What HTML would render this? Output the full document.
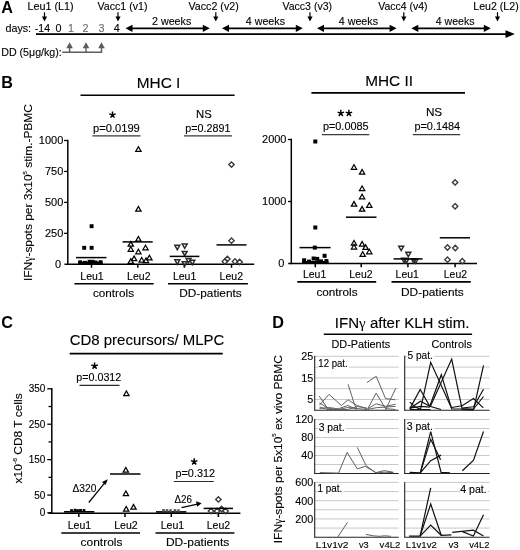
<!DOCTYPE html>
<html><head><meta charset="utf-8"><style>
html,body{margin:0;padding:0;background:#fff;}
svg{display:block;font-family:"Liberation Sans",sans-serif;will-change:transform;}
</style></head><body>
<svg width="520" height="550" viewBox="0 0 520 550">
<rect width="520" height="550" fill="#fff"/>
<text x="1.3" y="13" font-size="16.2" font-weight="bold">A</text>
<text x="27.5" y="10" font-size="10.5" stroke="#000" stroke-width="0.12" textLength="46.2" lengthAdjust="spacingAndGlyphs">Leu1 (L1)</text>
<line x1="44.5" y1="12.3" x2="44.5" y2="17" stroke="#000" stroke-width="1.2"/>
<polygon points="41.9,16.5 47.1,16.5 44.5,21.5" fill="#000"/>
<text x="97.5" y="10" font-size="10.5" stroke="#000" stroke-width="0.12" textLength="50" lengthAdjust="spacingAndGlyphs">Vacc1 (v1)</text>
<line x1="118" y1="12.3" x2="118" y2="17" stroke="#000" stroke-width="1.2"/>
<polygon points="115.4,16.5 120.6,16.5 118,21.5" fill="#000"/>
<text x="188.5" y="10" font-size="10.5" stroke="#000" stroke-width="0.12" textLength="50.2" lengthAdjust="spacingAndGlyphs">Vacc2 (v2)</text>
<line x1="215.8" y1="12.3" x2="215.8" y2="17" stroke="#000" stroke-width="1.2"/>
<polygon points="213.2,16.5 218.4,16.5 215.8,21.5" fill="#000"/>
<text x="282.5" y="10" font-size="10.5" stroke="#000" stroke-width="0.12" textLength="49.5" lengthAdjust="spacingAndGlyphs">Vacc3 (v3)</text>
<line x1="310" y1="12.3" x2="310" y2="17" stroke="#000" stroke-width="1.2"/>
<polygon points="307.4,16.5 312.6,16.5 310,21.5" fill="#000"/>
<text x="378.3" y="10" font-size="10.5" stroke="#000" stroke-width="0.12" textLength="49.2" lengthAdjust="spacingAndGlyphs">Vacc4 (v4)</text>
<line x1="403.8" y1="12.3" x2="403.8" y2="17" stroke="#000" stroke-width="1.2"/>
<polygon points="401.2,16.5 406.4,16.5 403.8,21.5" fill="#000"/>
<text x="473.3" y="10" font-size="10.5" stroke="#000" stroke-width="0.12" textLength="45.4" lengthAdjust="spacingAndGlyphs">Leu2 (L2)</text>
<line x1="497.5" y1="12.3" x2="497.5" y2="17" stroke="#000" stroke-width="1.2"/>
<polygon points="494.9,16.5 500.1,16.5 497.5,21.5" fill="#000"/>
<text x="5.5" y="32" font-size="10.8" stroke="#000" stroke-width="0.12" textLength="25.6" lengthAdjust="spacingAndGlyphs">days:</text>
<text x="34.8" y="32" font-size="10.8" stroke="#000" stroke-width="0.12" textLength="15.2" lengthAdjust="spacingAndGlyphs">-14</text>
<text x="55.5" y="32" font-size="10.8" stroke="#000" stroke-width="0.12">0</text>
<text x="68" y="32" font-size="10.8" stroke="#6e6e6e" stroke-width="0.12" fill="#6e6e6e">1</text>
<text x="82.5" y="32" font-size="10.8" stroke="#6e6e6e" stroke-width="0.12" fill="#6e6e6e">2</text>
<text x="98.5" y="32" font-size="10.8" stroke="#6e6e6e" stroke-width="0.12" fill="#6e6e6e">3</text>
<text x="113.8" y="32" font-size="10.8" stroke="#000" stroke-width="0.12">4</text>
<line x1="36" y1="34.1" x2="507" y2="34.1" stroke="#000" stroke-width="1.6"/>
<polygon points="514.8,34.1 505.5,30.2 505.5,38" fill="#000"/>
<line x1="131.5" y1="28.3" x2="203.8" y2="28.3" stroke="#000" stroke-width="1.8"/>
<polygon points="125.5,28.3 132.5,24.7 132.5,31.9" fill="#000"/>
<polygon points="209.8,28.3 202.8,24.7 202.8,31.9" fill="#000"/>
<line x1="228" y1="28.3" x2="296.8" y2="28.3" stroke="#000" stroke-width="1.8"/>
<polygon points="222,28.3 229,24.7 229,31.9" fill="#000"/>
<polygon points="302.8,28.3 295.8,24.7 295.8,31.9" fill="#000"/>
<line x1="323" y1="28.3" x2="390.6" y2="28.3" stroke="#000" stroke-width="1.8"/>
<polygon points="317,28.3 324,24.7 324,31.9" fill="#000"/>
<polygon points="396.6,28.3 389.6,24.7 389.6,31.9" fill="#000"/>
<line x1="417.3" y1="28.3" x2="484.8" y2="28.3" stroke="#000" stroke-width="1.8"/>
<polygon points="411.3,28.3 418.3,24.7 418.3,31.9" fill="#000"/>
<polygon points="490.8,28.3 483.8,24.7 483.8,31.9" fill="#000"/>
<text x="152" y="24.8" font-size="10.5" stroke="#000" stroke-width="0.12" textLength="39.3" lengthAdjust="spacingAndGlyphs">2 weeks</text>
<text x="245.8" y="24.8" font-size="10.5" stroke="#000" stroke-width="0.12" textLength="39.2" lengthAdjust="spacingAndGlyphs">4 weeks</text>
<text x="338.8" y="24.8" font-size="10.5" stroke="#000" stroke-width="0.12" textLength="39.2" lengthAdjust="spacingAndGlyphs">4 weeks</text>
<text x="435.8" y="24.8" font-size="10.5" stroke="#000" stroke-width="0.12" textLength="38.7" lengthAdjust="spacingAndGlyphs">4 weeks</text>
<text x="1.2" y="55.8" font-size="10.5" stroke="#000" stroke-width="0.12" textLength="60.6" lengthAdjust="spacingAndGlyphs">DD (5&#956;g/kg):</text>
<line x1="62.3" y1="52.3" x2="101.9" y2="52.3" stroke="#5c5c5c" stroke-width="1.4"/>
<line x1="69.6" y1="47.7" x2="69.6" y2="52.3" stroke="#5c5c5c" stroke-width="1.4"/>
<polygon points="66.3,48.2 72.9,48.2 69.6,42.2" fill="#5c5c5c"/>
<line x1="86" y1="47.7" x2="86" y2="52.3" stroke="#5c5c5c" stroke-width="1.4"/>
<polygon points="82.7,48.2 89.3,48.2 86,42.2" fill="#5c5c5c"/>
<line x1="101.5" y1="47.7" x2="101.5" y2="52.9" stroke="#5c5c5c" stroke-width="1.4"/>
<polygon points="98.2,48.2 104.8,48.2 101.5,42.2" fill="#5c5c5c"/>
<text x="1.3" y="88" font-size="16.2" font-weight="bold">B</text>
<text x="136.8" y="88.2" font-size="15.2" stroke="#000" stroke-width="0.12" textLength="43.6" lengthAdjust="spacingAndGlyphs">MHC I</text>
<line x1="80.5" y1="95.2" x2="234.6" y2="95.2" stroke="#000" stroke-width="1.6"/>
<path d="M112.5,114.9L112.5,111.5M112.5,114.9L115.73,113.85M112.5,114.9L114.5,117.65M112.5,114.9L110.5,117.65M112.5,114.9L109.27,113.85" stroke="#000" stroke-width="1.45" stroke-linecap="butt" fill="none"/>
<text x="93" y="132.1" font-size="10.7" stroke="#000" stroke-width="0.12" textLength="46.8" lengthAdjust="spacingAndGlyphs">p=0.0199</text>
<line x1="92.4" y1="135.8" x2="140.5" y2="135.8" stroke="#3a3a3a" stroke-width="1.3"/>
<text x="196" y="118.2" font-size="11.2" stroke="#000" stroke-width="0.12" textLength="15.7" lengthAdjust="spacingAndGlyphs">NS</text>
<text x="185.3" y="132.1" font-size="10.7" stroke="#000" stroke-width="0.12" textLength="45.1" lengthAdjust="spacingAndGlyphs">p=0.2891</text>
<line x1="184" y1="135.8" x2="232" y2="135.8" stroke="#3a3a3a" stroke-width="1.3"/>
<line x1="67.8" y1="139.8" x2="67.8" y2="265" stroke="#000" stroke-width="1.5"/>
<line x1="64.5" y1="264.3" x2="254.2" y2="264.3" stroke="#000" stroke-width="1.5"/>
<line x1="64.1" y1="140.5" x2="67.8" y2="140.5" stroke="#000" stroke-width="1.3"/>
<text x="63.3" y="144.4" font-size="11" stroke="#000" stroke-width="0.12" text-anchor="end">1000</text>
<line x1="64.1" y1="171.45" x2="67.8" y2="171.45" stroke="#000" stroke-width="1.3"/>
<text x="63.3" y="175.35" font-size="11" stroke="#000" stroke-width="0.12" text-anchor="end">750</text>
<line x1="64.1" y1="202.4" x2="67.8" y2="202.4" stroke="#000" stroke-width="1.3"/>
<text x="63.3" y="206.3" font-size="11" stroke="#000" stroke-width="0.12" text-anchor="end">500</text>
<line x1="64.1" y1="233.35" x2="67.8" y2="233.35" stroke="#000" stroke-width="1.3"/>
<text x="63.3" y="237.25" font-size="11" stroke="#000" stroke-width="0.12" text-anchor="end">250</text>
<text x="61.2" y="268.2" font-size="11" stroke="#000" stroke-width="0.12" text-anchor="end">0</text>
<line x1="91.5" y1="264" x2="91.5" y2="267.8" stroke="#000" stroke-width="1.5"/>
<line x1="137.8" y1="264" x2="137.8" y2="267.8" stroke="#000" stroke-width="1.5"/>
<line x1="184.3" y1="264" x2="184.3" y2="267.8" stroke="#000" stroke-width="1.5"/>
<line x1="231.5" y1="264" x2="231.5" y2="267.8" stroke="#000" stroke-width="1.5"/>
<text x="92" y="279.7" font-size="10.6" stroke="#000" stroke-width="0.12" text-anchor="middle" textLength="23.4" lengthAdjust="spacingAndGlyphs">Leu1</text>
<text x="138.8" y="279.7" font-size="10.6" stroke="#000" stroke-width="0.12" text-anchor="middle" textLength="23.4" lengthAdjust="spacingAndGlyphs">Leu2</text>
<text x="184.6" y="279.7" font-size="10.6" stroke="#000" stroke-width="0.12" text-anchor="middle" textLength="23.4" lengthAdjust="spacingAndGlyphs">Leu1</text>
<text x="231.3" y="279.7" font-size="10.6" stroke="#000" stroke-width="0.12" text-anchor="middle" textLength="23.4" lengthAdjust="spacingAndGlyphs">Leu2</text>
<line x1="74.4" y1="283.8" x2="153.7" y2="283.8" stroke="#000" stroke-width="1.6"/>
<line x1="168" y1="283.8" x2="247.9" y2="283.8" stroke="#000" stroke-width="1.6"/>
<text x="113.5" y="297.3" font-size="11.7" stroke="#000" stroke-width="0.12" text-anchor="middle" textLength="41" lengthAdjust="spacingAndGlyphs">controls</text>
<text x="210.5" y="297.3" font-size="11.7" stroke="#000" stroke-width="0.12" text-anchor="middle" textLength="62.5" lengthAdjust="spacingAndGlyphs">DD-patients</text>
<text transform="translate(32.3,192.6) rotate(-90)" x="0" y="0" font-size="11.6" text-anchor="middle" stroke="#000" stroke-width="0.12" textLength="177" lengthAdjust="spacingAndGlyphs">IFN<tspan font-family="Liberation Serif" stroke-width="0">&#947;</tspan>-spots per 3x10<tspan font-size="5.8" dy="-5.2">5</tspan><tspan dy="5.2"> stim.-PBMC</tspan></text>
<rect x="78" y="261.6" width="24.6" height="2.5" fill="#000"/>
<rect x="89.65" y="224.25" width="3.9" height="3.9" fill="#000"/>
<rect x="82.25" y="245.85" width="3.9" height="3.9" fill="#000"/>
<rect x="89.65" y="245.85" width="3.9" height="3.9" fill="#000"/>
<rect x="78.25" y="260.35" width="3.9" height="3.9" fill="#000"/>
<rect x="83.05" y="260.85" width="3.9" height="3.9" fill="#000"/>
<rect x="87.65" y="259.85" width="3.9" height="3.9" fill="#000"/>
<rect x="90.65" y="259.85" width="3.9" height="3.9" fill="#000"/>
<rect x="93.55" y="260.55" width="3.9" height="3.9" fill="#000"/>
<rect x="98.65" y="260.25" width="3.9" height="3.9" fill="#000"/>
<line x1="76" y1="257.6" x2="106.5" y2="257.6" stroke="#000" stroke-width="1.5"/>
<polygon points="135.75,151.31 141.05,151.31 138.4,146.69" fill="none" stroke="#000" stroke-width="1.25"/>
<polygon points="135.75,211.11 141.05,211.11 138.4,206.49" fill="none" stroke="#000" stroke-width="1.25"/>
<polygon points="135.75,241.11 141.05,241.11 138.4,236.49" fill="none" stroke="#000" stroke-width="1.25"/>
<polygon points="128.15,246.21 133.45,246.21 130.8,241.59" fill="none" stroke="#000" stroke-width="1.25"/>
<polygon points="128.15,251.31 133.45,251.31 130.8,246.69" fill="none" stroke="#000" stroke-width="1.25"/>
<polygon points="142.85,249.81 148.15,249.81 145.5,245.19" fill="none" stroke="#000" stroke-width="1.25"/>
<polygon points="135.75,253.81 141.05,253.81 138.4,249.19" fill="none" stroke="#000" stroke-width="1.25"/>
<polygon points="131.45,260.71 136.75,260.71 134.1,256.09" fill="none" stroke="#000" stroke-width="1.25"/>
<polygon points="128.15,263.31 133.45,263.31 130.8,258.69" fill="none" stroke="#000" stroke-width="1.25"/>
<polygon points="139.05,262.01 144.35,262.01 141.7,257.39" fill="none" stroke="#000" stroke-width="1.25"/>
<polygon points="143.35,262.51 148.65,262.51 146,257.89" fill="none" stroke="#000" stroke-width="1.25"/>
<polygon points="146.75,259.91 152.05,259.91 149.4,255.29" fill="none" stroke="#000" stroke-width="1.25"/>
<line x1="122.6" y1="241.9" x2="152.7" y2="241.9" stroke="#000" stroke-width="1.5"/>
<polygon points="174.85,245.37 179.75,245.37 177.3,249.63" fill="none" stroke="#2a2a2a" stroke-width="1.5"/>
<polygon points="182.25,244.07 187.15,244.07 184.7,248.33" fill="none" stroke="#2a2a2a" stroke-width="1.5"/>
<polygon points="182.25,251.47 187.15,251.47 184.7,255.73" fill="none" stroke="#2a2a2a" stroke-width="1.5"/>
<polygon points="174.85,259.87 179.75,259.87 177.3,264.13" fill="none" stroke="#2a2a2a" stroke-width="1.5"/>
<polygon points="186.05,258.57 190.95,258.57 188.5,262.83" fill="none" stroke="#2a2a2a" stroke-width="1.5"/>
<polygon points="189.85,260.37 194.75,260.37 192.3,264.63" fill="none" stroke="#2a2a2a" stroke-width="1.5"/>
<polygon points="182.25,261.87 187.15,261.87 184.7,266.13" fill="none" stroke="#2a2a2a" stroke-width="1.5"/>
<line x1="169.7" y1="256.4" x2="199.4" y2="256.4" stroke="#000" stroke-width="1.5"/>
<polygon points="231.5,161.9 234.2,164.6 231.5,167.3 228.8,164.6" fill="none" stroke="#3a3a3a" stroke-width="1.35"/>
<polygon points="231.5,238 234.2,240.7 231.5,243.4 228.8,240.7" fill="none" stroke="#3a3a3a" stroke-width="1.35"/>
<polygon points="224.9,258.8 227.6,261.5 224.9,264.2 222.2,261.5" fill="none" stroke="#3a3a3a" stroke-width="1.35"/>
<polygon points="227.4,256.2 230.1,258.9 227.4,261.6 224.7,258.9" fill="none" stroke="#3a3a3a" stroke-width="1.35"/>
<polygon points="235,258.8 237.7,261.5 235,264.2 232.3,261.5" fill="none" stroke="#3a3a3a" stroke-width="1.35"/>
<polygon points="239.6,259.3 242.3,262 239.6,264.7 236.9,262" fill="none" stroke="#3a3a3a" stroke-width="1.35"/>
<line x1="216.5" y1="244.9" x2="246.5" y2="244.9" stroke="#000" stroke-width="1.5"/>
<text x="365.2" y="86.4" font-size="15.2" stroke="#000" stroke-width="0.12" textLength="47.8" lengthAdjust="spacingAndGlyphs">MHC II</text>
<line x1="311.4" y1="92.9" x2="465" y2="92.9" stroke="#000" stroke-width="1.6"/>
<path d="M340.8,113.2L340.8,109.8M340.8,113.2L344.03,112.15M340.8,113.2L342.8,115.95M340.8,113.2L338.8,115.95M340.8,113.2L337.57,112.15" stroke="#000" stroke-width="1.45" stroke-linecap="butt" fill="none"/>
<path d="M348.9,113.2L348.9,109.8M348.9,113.2L352.13,112.15M348.9,113.2L350.9,115.95M348.9,113.2L346.9,115.95M348.9,113.2L345.67,112.15" stroke="#000" stroke-width="1.45" stroke-linecap="butt" fill="none"/>
<text x="322.9" y="129.8" font-size="10.7" stroke="#000" stroke-width="0.12" textLength="45.7" lengthAdjust="spacingAndGlyphs">p=0.0085</text>
<line x1="321.9" y1="134.6" x2="369.3" y2="134.6" stroke="#3a3a3a" stroke-width="1.3"/>
<text x="425.9" y="116.4" font-size="11.2" stroke="#000" stroke-width="0.12" textLength="16.3" lengthAdjust="spacingAndGlyphs">NS</text>
<text x="414.4" y="129.8" font-size="10.7" stroke="#000" stroke-width="0.12" textLength="45.8" lengthAdjust="spacingAndGlyphs">p=0.1484</text>
<line x1="412.8" y1="134.6" x2="460.2" y2="134.6" stroke="#3a3a3a" stroke-width="1.3"/>
<line x1="291.3" y1="138.7" x2="291.3" y2="264.2" stroke="#000" stroke-width="1.5"/>
<line x1="288.2" y1="263.5" x2="477" y2="263.5" stroke="#000" stroke-width="1.5"/>
<line x1="288" y1="139.5" x2="291.3" y2="139.5" stroke="#000" stroke-width="1.3"/>
<text x="286.5" y="143.4" font-size="11" stroke="#000" stroke-width="0.12" text-anchor="end">2000</text>
<line x1="288" y1="201.5" x2="291.3" y2="201.5" stroke="#000" stroke-width="1.3"/>
<text x="286.5" y="205.4" font-size="11" stroke="#000" stroke-width="0.12" text-anchor="end">1000</text>
<text x="284.4" y="267.4" font-size="11" stroke="#000" stroke-width="0.12" text-anchor="end">0</text>
<line x1="315.3" y1="263.5" x2="315.3" y2="267.3" stroke="#000" stroke-width="1.5"/>
<line x1="361.2" y1="263.5" x2="361.2" y2="267.3" stroke="#000" stroke-width="1.5"/>
<line x1="407.9" y1="263.5" x2="407.9" y2="267.3" stroke="#000" stroke-width="1.5"/>
<line x1="455.1" y1="263.5" x2="455.1" y2="267.3" stroke="#000" stroke-width="1.5"/>
<text x="314.6" y="277.8" font-size="10.6" stroke="#000" stroke-width="0.12" text-anchor="middle" textLength="23.2" lengthAdjust="spacingAndGlyphs">Leu1</text>
<text x="360.9" y="277.8" font-size="10.6" stroke="#000" stroke-width="0.12" text-anchor="middle" textLength="23.2" lengthAdjust="spacingAndGlyphs">Leu2</text>
<text x="407.2" y="277.8" font-size="10.6" stroke="#000" stroke-width="0.12" text-anchor="middle" textLength="23.2" lengthAdjust="spacingAndGlyphs">Leu1</text>
<text x="455.4" y="277.8" font-size="10.6" stroke="#000" stroke-width="0.12" text-anchor="middle" textLength="23.2" lengthAdjust="spacingAndGlyphs">Leu2</text>
<line x1="297.3" y1="281.9" x2="376.2" y2="281.9" stroke="#000" stroke-width="1.6"/>
<line x1="391.5" y1="281.9" x2="470.8" y2="281.9" stroke="#000" stroke-width="1.6"/>
<text x="337" y="296" font-size="11.7" stroke="#000" stroke-width="0.12" text-anchor="middle" textLength="41.2" lengthAdjust="spacingAndGlyphs">controls</text>
<text x="432.4" y="296" font-size="11.7" stroke="#000" stroke-width="0.12" text-anchor="middle" textLength="62.8" lengthAdjust="spacingAndGlyphs">DD-patients</text>
<rect x="302" y="261" width="26.5" height="2.6" fill="#000"/>
<rect x="313.3" y="139.5" width="4" height="4" fill="#000"/>
<rect x="313.3" y="225.5" width="4" height="4" fill="#000"/>
<rect x="312.8" y="245.6" width="4" height="4" fill="#000"/>
<rect x="322.6" y="253.8" width="4" height="4" fill="#000"/>
<rect x="302.1" y="258.3" width="4" height="4" fill="#000"/>
<rect x="307" y="259.6" width="4" height="4" fill="#000"/>
<rect x="311.6" y="256.5" width="4" height="4" fill="#000"/>
<rect x="315.2" y="256.9" width="4" height="4" fill="#000"/>
<rect x="319" y="259.4" width="4" height="4" fill="#000"/>
<rect x="324.4" y="259.1" width="4" height="4" fill="#000"/>
<line x1="299.5" y1="247.6" x2="330.6" y2="247.6" stroke="#000" stroke-width="1.5"/>
<polygon points="351.35,169.31 356.65,169.31 354,164.69" fill="none" stroke="#000" stroke-width="1.25"/>
<polygon points="359.45,174.11 364.75,174.11 362.1,169.49" fill="none" stroke="#000" stroke-width="1.25"/>
<polygon points="359.45,190.51 364.75,190.51 362.1,185.89" fill="none" stroke="#000" stroke-width="1.25"/>
<polygon points="359.45,198.81 364.75,198.81 362.1,194.19" fill="none" stroke="#000" stroke-width="1.25"/>
<polygon points="351.35,206.21 356.65,206.21 354,201.59" fill="none" stroke="#000" stroke-width="1.25"/>
<polygon points="366.65,207.31 371.95,207.31 369.3,202.69" fill="none" stroke="#000" stroke-width="1.25"/>
<polygon points="359.45,211.21 364.75,211.21 362.1,206.59" fill="none" stroke="#000" stroke-width="1.25"/>
<polygon points="351.35,245.01 356.65,245.01 354,240.39" fill="none" stroke="#000" stroke-width="1.25"/>
<polygon points="351.35,249.01 356.65,249.01 354,244.39" fill="none" stroke="#000" stroke-width="1.25"/>
<polygon points="359.45,246.11 364.75,246.11 362.1,241.49" fill="none" stroke="#000" stroke-width="1.25"/>
<polygon points="362.95,249.41 368.25,249.41 365.6,244.79" fill="none" stroke="#000" stroke-width="1.25"/>
<polygon points="366.65,253.81 371.95,253.81 369.3,249.19" fill="none" stroke="#000" stroke-width="1.25"/>
<polygon points="360.05,256.41 365.35,256.41 362.7,251.79" fill="none" stroke="#000" stroke-width="1.25"/>
<line x1="345.9" y1="217.2" x2="376.5" y2="217.2" stroke="#000" stroke-width="1.5"/>
<polygon points="398.75,246.27 403.65,246.27 401.2,250.53" fill="none" stroke="#2a2a2a" stroke-width="1.5"/>
<polygon points="405.85,252.37 410.75,252.37 408.3,256.63" fill="none" stroke="#2a2a2a" stroke-width="1.5"/>
<polygon points="401.65,258.27 406.55,258.27 404.1,262.53" fill="none" stroke="#2a2a2a" stroke-width="1.5"/>
<polygon points="403.95,258.67 408.85,258.67 406.4,262.93" fill="none" stroke="#2a2a2a" stroke-width="1.5"/>
<polygon points="411.25,258.67 416.15,258.67 413.7,262.93" fill="none" stroke="#2a2a2a" stroke-width="1.5"/>
<polygon points="413.15,259.07 418.05,259.07 415.6,263.33" fill="none" stroke="#2a2a2a" stroke-width="1.5"/>
<line x1="393.6" y1="258.9" x2="422.6" y2="258.9" stroke="#000" stroke-width="1.5"/>
<polygon points="455.1,179.7 457.8,182.4 455.1,185.1 452.4,182.4" fill="none" stroke="#3a3a3a" stroke-width="1.35"/>
<polygon points="455.1,203.6 457.8,206.3 455.1,209 452.4,206.3" fill="none" stroke="#3a3a3a" stroke-width="1.35"/>
<polygon points="447.5,244.8 450.2,247.5 447.5,250.2 444.8,247.5" fill="none" stroke="#3a3a3a" stroke-width="1.35"/>
<polygon points="455.3,245.3 458,248 455.3,250.7 452.6,248" fill="none" stroke="#3a3a3a" stroke-width="1.35"/>
<polygon points="447.5,257 450.2,259.7 447.5,262.4 444.8,259.7" fill="none" stroke="#3a3a3a" stroke-width="1.35"/>
<polygon points="462.3,258.5 465,261.2 462.3,263.9 459.6,261.2" fill="none" stroke="#3a3a3a" stroke-width="1.35"/>
<line x1="439.8" y1="237.8" x2="470" y2="237.8" stroke="#000" stroke-width="1.5"/>
<text x="1.2" y="328" font-size="16.2" font-weight="bold">C</text>
<text x="69.7" y="345.2" font-size="15" stroke="#000" stroke-width="0.12" textLength="154.7" lengthAdjust="spacingAndGlyphs">CD8 precursors/ MLPC</text>
<line x1="69.7" y1="353.6" x2="222.7" y2="353.6" stroke="#000" stroke-width="1.6"/>
<path d="M94.6,366L94.6,362.6M94.6,366L97.83,364.95M94.6,366L96.6,368.75M94.6,366L92.6,368.75M94.6,366L91.37,364.95" stroke="#000" stroke-width="1.45" stroke-linecap="butt" fill="none"/>
<text x="76.3" y="381.3" font-size="10.7" stroke="#000" stroke-width="0.12" textLength="45" lengthAdjust="spacingAndGlyphs">p=0.0312</text>
<line x1="79.5" y1="385.4" x2="119.5" y2="385.4" stroke="#2a2a2a" stroke-width="1.2"/>
<line x1="51.8" y1="388" x2="51.8" y2="514" stroke="#000" stroke-width="1.5"/>
<line x1="48.5" y1="513.3" x2="240.4" y2="513.3" stroke="#000" stroke-width="1.5"/>
<line x1="47.3" y1="388.79" x2="51.8" y2="388.79" stroke="#000" stroke-width="1.3"/>
<text x="45.4" y="392.39" font-size="10" stroke="#000" stroke-width="0.12" text-anchor="end">350</text>
<line x1="47.3" y1="424.22" x2="51.8" y2="424.22" stroke="#000" stroke-width="1.3"/>
<text x="45.4" y="427.82" font-size="10" stroke="#000" stroke-width="0.12" text-anchor="end">250</text>
<line x1="47.3" y1="459.65" x2="51.8" y2="459.65" stroke="#000" stroke-width="1.3"/>
<text x="45.4" y="463.25" font-size="10" stroke="#000" stroke-width="0.12" text-anchor="end">150</text>
<line x1="47.3" y1="495.08" x2="51.8" y2="495.08" stroke="#000" stroke-width="1.3"/>
<text x="45.4" y="498.69" font-size="10" stroke="#000" stroke-width="0.12" text-anchor="end">50</text>
<line x1="47.3" y1="512.8" x2="51.8" y2="512.8" stroke="#000" stroke-width="1.3"/>
<text x="45.4" y="516.4" font-size="10" stroke="#000" stroke-width="0.12" text-anchor="end">0</text>
<line x1="48.5" y1="406.51" x2="51.8" y2="406.51" stroke="#000" stroke-width="1.3"/>
<line x1="48.5" y1="441.94" x2="51.8" y2="441.94" stroke="#000" stroke-width="1.3"/>
<line x1="48.5" y1="477.37" x2="51.8" y2="477.37" stroke="#000" stroke-width="1.3"/>
<line x1="78.8" y1="513.5" x2="78.8" y2="517" stroke="#000" stroke-width="1.5"/>
<line x1="125" y1="513.5" x2="125" y2="517" stroke="#000" stroke-width="1.5"/>
<line x1="171.3" y1="513.5" x2="171.3" y2="517" stroke="#000" stroke-width="1.5"/>
<line x1="218.4" y1="513.5" x2="218.4" y2="517" stroke="#000" stroke-width="1.5"/>
<text x="79.4" y="528.8" font-size="10.6" stroke="#000" stroke-width="0.12" text-anchor="middle" textLength="23.5" lengthAdjust="spacingAndGlyphs">Leu1</text>
<text x="125.9" y="528.8" font-size="10.6" stroke="#000" stroke-width="0.12" text-anchor="middle" textLength="23.5" lengthAdjust="spacingAndGlyphs">Leu2</text>
<text x="172.5" y="528.8" font-size="10.6" stroke="#000" stroke-width="0.12" text-anchor="middle" textLength="23.5" lengthAdjust="spacingAndGlyphs">Leu1</text>
<text x="218.5" y="528.8" font-size="10.6" stroke="#000" stroke-width="0.12" text-anchor="middle" textLength="23.5" lengthAdjust="spacingAndGlyphs">Leu2</text>
<line x1="61.3" y1="533" x2="140" y2="533" stroke="#000" stroke-width="1.6"/>
<line x1="155.5" y1="533" x2="234.4" y2="533" stroke="#000" stroke-width="1.6"/>
<text x="101.5" y="546.3" font-size="11.8" stroke="#000" stroke-width="0.12" text-anchor="middle" textLength="41.8" lengthAdjust="spacingAndGlyphs">controls</text>
<text x="197.6" y="546.3" font-size="11.8" stroke="#000" stroke-width="0.12" text-anchor="middle" textLength="63.4" lengthAdjust="spacingAndGlyphs">DD-patients</text>
<text transform="translate(21.8,438.4) rotate(-90)" x="0" y="0" font-size="10.5" text-anchor="middle" stroke="#000" stroke-width="0.12" textLength="90" lengthAdjust="spacingAndGlyphs">x10<tspan font-size="6" dy="-5">-6</tspan><tspan dy="5"> CD8 T cells</tspan></text>
<text x="72.5" y="492.4" font-size="10.9" stroke="#000" stroke-width="0.12" textLength="23.8" lengthAdjust="spacingAndGlyphs">&#916;320</text>
<line x1="88.8" y1="502.5" x2="104.5" y2="483.2" stroke="#000" stroke-width="1.2"/>
<polygon points="107.8,479.3 102,482 105.5,485" fill="#000"/>
<text x="174.5" y="503" font-size="10.9" stroke="#000" stroke-width="0.12" textLength="17.5" lengthAdjust="spacingAndGlyphs">&#916;26</text>
<line x1="181.5" y1="507.7" x2="197.5" y2="504.2" stroke="#000" stroke-width="1.2"/>
<polygon points="201.6,503.3 196,501.2 197.2,506.8" fill="#000"/>
<line x1="64.1" y1="511.8" x2="94.3" y2="511.8" stroke="#000" stroke-width="1.6"/>
<rect x="70.1" y="509.2" width="2.8" height="2.8" fill="#000"/>
<rect x="73.6" y="508.8" width="2.8" height="2.8" fill="#000"/>
<rect x="76.1" y="509.2" width="2.8" height="2.8" fill="#000"/>
<rect x="79.1" y="509" width="2.8" height="2.8" fill="#000"/>
<rect x="82.6" y="509.1" width="2.8" height="2.8" fill="#000"/>
<polygon points="123.75,395.61 129.05,395.61 126.4,390.99" fill="none" stroke="#000" stroke-width="1.25"/>
<polygon points="123.15,472.11 128.45,472.11 125.8,467.49" fill="none" stroke="#000" stroke-width="1.25"/>
<polygon points="123.25,495.61 128.55,495.61 125.9,490.99" fill="none" stroke="#000" stroke-width="1.25"/>
<polygon points="123.55,511.11 128.85,511.11 126.2,506.49" fill="none" stroke="#000" stroke-width="1.25"/>
<polygon points="130.85,509.21 136.15,509.21 133.5,504.59" fill="none" stroke="#000" stroke-width="1.25"/>
<line x1="110" y1="474" x2="140.5" y2="474" stroke="#000" stroke-width="1.5"/>
<line x1="156" y1="511.9" x2="186.3" y2="511.9" stroke="#000" stroke-width="1.6"/>
<rect x="162.2" y="509" width="2.6" height="2.6" fill="#555"/>
<rect x="165.7" y="509.2" width="2.6" height="2.6" fill="#555"/>
<rect x="169.2" y="509.3" width="2.6" height="2.6" fill="#555"/>
<rect x="173.7" y="509.1" width="2.6" height="2.6" fill="#555"/>
<rect x="177.2" y="509.3" width="2.6" height="2.6" fill="#555"/>
<polygon points="218.4,496.7 221.1,499.4 218.4,502.1 215.7,499.4" fill="none" stroke="#3a3a3a" stroke-width="1.35"/>
<polygon points="211,508.3 213.7,511 211,513.7 208.3,511" fill="none" stroke="#3a3a3a" stroke-width="1.35"/>
<polygon points="217,508.3 219.7,511 217,513.7 214.3,511" fill="none" stroke="#3a3a3a" stroke-width="1.35"/>
<polygon points="221.6,506.3 224.3,509 221.6,511.7 218.9,509" fill="none" stroke="#3a3a3a" stroke-width="1.35"/>
<polygon points="225.6,508.3 228.3,511 225.6,513.7 222.9,511" fill="none" stroke="#3a3a3a" stroke-width="1.35"/>
<line x1="203.6" y1="508.4" x2="233" y2="508.4" stroke="#000" stroke-width="1.5"/>
<path d="M194.2,461.7L194.2,458.3M194.2,461.7L197.43,460.65M194.2,461.7L196.2,464.45M194.2,461.7L192.2,464.45M194.2,461.7L190.97,460.65" stroke="#000" stroke-width="1.45" stroke-linecap="butt" fill="none"/>
<text x="175.5" y="476.8" font-size="10.7" stroke="#000" stroke-width="0.12" textLength="39.5" lengthAdjust="spacingAndGlyphs">p=0.312</text>
<line x1="173.8" y1="481.5" x2="213.8" y2="481.5" stroke="#2a2a2a" stroke-width="1.2"/>
<text x="272.2" y="328" font-size="16.2" font-weight="bold">D</text>
<text x="334.8" y="328.2" font-size="15.4" stroke="#000" stroke-width="0.12" textLength="134.6" lengthAdjust="spacingAndGlyphs">IFN<tspan font-family="Liberation Serif" stroke-width="0">&#947;</tspan> after KLH stim.</text>
<line x1="323.8" y1="334.2" x2="472.1" y2="334.2" stroke="#000" stroke-width="1.6"/>
<text x="331.5" y="347.6" font-size="10.8" stroke="#000" stroke-width="0.12" textLength="58.6" lengthAdjust="spacingAndGlyphs">DD-Patients</text>
<text x="431.5" y="347.7" font-size="10.8" stroke="#000" stroke-width="0.12" textLength="40.3" lengthAdjust="spacingAndGlyphs">Controls</text>
<text transform="translate(281.5,449.2) rotate(-90)" x="0" y="0" font-size="11.6" text-anchor="middle" stroke="#000" stroke-width="0.12" textLength="188" lengthAdjust="spacingAndGlyphs">IFN<tspan font-family="Liberation Serif" stroke-width="0">&#947;</tspan>-spots per 5x10<tspan font-size="5.8" dy="-5.2">5</tspan><tspan dy="5.2"> ex vivo PBMC</tspan></text>
<line x1="314.7" y1="356.3" x2="398.7" y2="356.3" stroke="#c9c9c9" stroke-width="1"/>
<line x1="314.7" y1="367.1" x2="398.7" y2="367.1" stroke="#c9c9c9" stroke-width="1"/>
<line x1="314.7" y1="377.9" x2="398.7" y2="377.9" stroke="#c9c9c9" stroke-width="1"/>
<line x1="314.7" y1="388.7" x2="398.7" y2="388.7" stroke="#c9c9c9" stroke-width="1"/>
<line x1="314.7" y1="399.5" x2="398.7" y2="399.5" stroke="#c9c9c9" stroke-width="1"/>
<line x1="314.7" y1="355.8" x2="314.7" y2="410.8" stroke="#222" stroke-width="1.1"/>
<line x1="314.7" y1="410.3" x2="398.7" y2="410.3" stroke="#222" stroke-width="1.1"/>
<line x1="404.7" y1="356.3" x2="489.6" y2="356.3" stroke="#c9c9c9" stroke-width="1"/>
<line x1="404.7" y1="367.1" x2="489.6" y2="367.1" stroke="#c9c9c9" stroke-width="1"/>
<line x1="404.7" y1="377.9" x2="489.6" y2="377.9" stroke="#c9c9c9" stroke-width="1"/>
<line x1="404.7" y1="388.7" x2="489.6" y2="388.7" stroke="#c9c9c9" stroke-width="1"/>
<line x1="404.7" y1="399.5" x2="489.6" y2="399.5" stroke="#c9c9c9" stroke-width="1"/>
<line x1="404.7" y1="355.8" x2="404.7" y2="410.8" stroke="#222" stroke-width="1.1"/>
<line x1="404.7" y1="410.3" x2="489.6" y2="410.3" stroke="#222" stroke-width="1.1"/>
<text x="313.2" y="360.2" font-size="10.8" stroke="#000" stroke-width="0.12" text-anchor="end">25</text>
<text x="313.2" y="381.8" font-size="10.8" stroke="#000" stroke-width="0.12" text-anchor="end">15</text>
<text x="313.2" y="403.4" font-size="10.8" stroke="#000" stroke-width="0.12" text-anchor="end">5</text>
<line x1="314.7" y1="419.5" x2="398.7" y2="419.5" stroke="#c9c9c9" stroke-width="1"/>
<line x1="314.7" y1="428.5" x2="398.7" y2="428.5" stroke="#c9c9c9" stroke-width="1"/>
<line x1="314.7" y1="437.5" x2="398.7" y2="437.5" stroke="#c9c9c9" stroke-width="1"/>
<line x1="314.7" y1="446.5" x2="398.7" y2="446.5" stroke="#c9c9c9" stroke-width="1"/>
<line x1="314.7" y1="455.5" x2="398.7" y2="455.5" stroke="#c9c9c9" stroke-width="1"/>
<line x1="314.7" y1="464.5" x2="398.7" y2="464.5" stroke="#c9c9c9" stroke-width="1"/>
<line x1="314.7" y1="419" x2="314.7" y2="474" stroke="#222" stroke-width="1.1"/>
<line x1="314.7" y1="473.5" x2="398.7" y2="473.5" stroke="#222" stroke-width="1.1"/>
<line x1="404.7" y1="419.5" x2="489.6" y2="419.5" stroke="#c9c9c9" stroke-width="1"/>
<line x1="404.7" y1="428.5" x2="489.6" y2="428.5" stroke="#c9c9c9" stroke-width="1"/>
<line x1="404.7" y1="437.5" x2="489.6" y2="437.5" stroke="#c9c9c9" stroke-width="1"/>
<line x1="404.7" y1="446.5" x2="489.6" y2="446.5" stroke="#c9c9c9" stroke-width="1"/>
<line x1="404.7" y1="455.5" x2="489.6" y2="455.5" stroke="#c9c9c9" stroke-width="1"/>
<line x1="404.7" y1="464.5" x2="489.6" y2="464.5" stroke="#c9c9c9" stroke-width="1"/>
<line x1="404.7" y1="419" x2="404.7" y2="474" stroke="#222" stroke-width="1.1"/>
<line x1="404.7" y1="473.5" x2="489.6" y2="473.5" stroke="#222" stroke-width="1.1"/>
<text x="313.2" y="423.4" font-size="10.8" stroke="#000" stroke-width="0.12" text-anchor="end">120</text>
<text x="313.2" y="441.4" font-size="10.8" stroke="#000" stroke-width="0.12" text-anchor="end">80</text>
<text x="313.2" y="459.4" font-size="10.8" stroke="#000" stroke-width="0.12" text-anchor="end">40</text>
<line x1="314.7" y1="482.4" x2="398.7" y2="482.4" stroke="#c9c9c9" stroke-width="1"/>
<line x1="314.7" y1="491.53" x2="398.7" y2="491.53" stroke="#c9c9c9" stroke-width="1"/>
<line x1="314.7" y1="500.67" x2="398.7" y2="500.67" stroke="#c9c9c9" stroke-width="1"/>
<line x1="314.7" y1="509.8" x2="398.7" y2="509.8" stroke="#c9c9c9" stroke-width="1"/>
<line x1="314.7" y1="518.93" x2="398.7" y2="518.93" stroke="#c9c9c9" stroke-width="1"/>
<line x1="314.7" y1="528.07" x2="398.7" y2="528.07" stroke="#c9c9c9" stroke-width="1"/>
<line x1="314.7" y1="481.9" x2="314.7" y2="537.7" stroke="#222" stroke-width="1.1"/>
<line x1="314.7" y1="537.2" x2="398.7" y2="537.2" stroke="#222" stroke-width="1.1"/>
<line x1="404.7" y1="482.4" x2="489.6" y2="482.4" stroke="#c9c9c9" stroke-width="1"/>
<line x1="404.7" y1="491.53" x2="489.6" y2="491.53" stroke="#c9c9c9" stroke-width="1"/>
<line x1="404.7" y1="500.67" x2="489.6" y2="500.67" stroke="#c9c9c9" stroke-width="1"/>
<line x1="404.7" y1="509.8" x2="489.6" y2="509.8" stroke="#c9c9c9" stroke-width="1"/>
<line x1="404.7" y1="518.93" x2="489.6" y2="518.93" stroke="#c9c9c9" stroke-width="1"/>
<line x1="404.7" y1="528.07" x2="489.6" y2="528.07" stroke="#c9c9c9" stroke-width="1"/>
<line x1="404.7" y1="481.9" x2="404.7" y2="537.7" stroke="#222" stroke-width="1.1"/>
<line x1="404.7" y1="537.2" x2="489.6" y2="537.2" stroke="#222" stroke-width="1.1"/>
<text x="313.2" y="486.3" font-size="10.8" stroke="#000" stroke-width="0.12" text-anchor="end">600</text>
<text x="313.2" y="504.57" font-size="10.8" stroke="#000" stroke-width="0.12" text-anchor="end">400</text>
<text x="313.2" y="522.83" font-size="10.8" stroke="#000" stroke-width="0.12" text-anchor="end">200</text>
<rect x="318" y="359" width="31" height="10.6" fill="#fff"/>
<text x="318.3" y="367.3" font-size="10.4" stroke="#000" stroke-width="0.12" textLength="29.4" lengthAdjust="spacingAndGlyphs">12 pat.</text>
<rect x="407.2" y="350.7" width="27" height="10.6" fill="#fff"/>
<text x="407.5" y="359" font-size="10.4" stroke="#000" stroke-width="0.12" textLength="25.4" lengthAdjust="spacingAndGlyphs">5 pat.</text>
<rect x="318.4" y="422.7" width="27.5" height="10.6" fill="#fff"/>
<text x="318.7" y="431" font-size="10.4" stroke="#000" stroke-width="0.12" textLength="25.9" lengthAdjust="spacingAndGlyphs">3 pat.</text>
<rect x="406.4" y="421.6" width="27.8" height="10.6" fill="#fff"/>
<text x="406.7" y="429.9" font-size="10.4" stroke="#000" stroke-width="0.12" textLength="26.2" lengthAdjust="spacingAndGlyphs">3 pat.</text>
<rect x="317.2" y="483.4" width="26.4" height="10.6" fill="#fff"/>
<text x="317.5" y="491.7" font-size="10.4" stroke="#000" stroke-width="0.12" textLength="24.8" lengthAdjust="spacingAndGlyphs">1 pat.</text>
<rect x="459.9" y="484.6" width="28.1" height="10.6" fill="#fff"/>
<text x="460.2" y="492.9" font-size="10.4" stroke="#000" stroke-width="0.12" textLength="26.5" lengthAdjust="spacingAndGlyphs">4 pat.</text>
<text x="315.8" y="547.6" font-size="9.7" stroke="#000" stroke-width="0.12" textLength="32.7" lengthAdjust="spacingAndGlyphs">L1v1v2</text>
<text x="359" y="547.6" font-size="9.7" stroke="#000" stroke-width="0.12" textLength="9.7" lengthAdjust="spacingAndGlyphs">v3</text>
<text x="379.6" y="547.6" font-size="9.7" stroke="#000" stroke-width="0.12" textLength="20.8" lengthAdjust="spacingAndGlyphs">v4L2</text>
<text x="405.8" y="547.6" font-size="9.7" stroke="#000" stroke-width="0.12" textLength="31.1" lengthAdjust="spacingAndGlyphs">L1v1v2</text>
<text x="448.5" y="547.6" font-size="9.7" stroke="#000" stroke-width="0.12" textLength="10.3" lengthAdjust="spacingAndGlyphs">v3</text>
<text x="469.2" y="547.6" font-size="9.7" stroke="#000" stroke-width="0.12" textLength="20.3" lengthAdjust="spacingAndGlyphs">v4L2</text>
<polyline points="319.3,396.2 328.2,409.3 338.2,409.6" fill="none" stroke="#606060" stroke-width="1" stroke-linejoin="miter"/>
<polyline points="319.5,405 329,394.3 341.4,405.5 348.1,399.8 354.7,404.2 357.3,405.5 367.4,409" fill="none" stroke="#606060" stroke-width="1" stroke-linejoin="miter"/>
<polyline points="348.1,384.3 354.7,405.1 357.5,409" fill="none" stroke="#606060" stroke-width="1" stroke-linejoin="miter"/>
<polyline points="367,382.5 376.2,376.3 385.5,398.5 395.3,399.8" fill="none" stroke="#606060" stroke-width="1" stroke-linejoin="miter"/>
<polyline points="367.8,408.6 376.2,393.1 385.5,408.6 395.5,409.5" fill="none" stroke="#606060" stroke-width="1" stroke-linejoin="miter"/>
<polyline points="385.5,410 395.7,388.3" fill="none" stroke="#606060" stroke-width="1" stroke-linejoin="miter"/>
<polyline points="367.4,409 376.2,403.8 385.5,406.4 395.7,404.2" fill="none" stroke="#606060" stroke-width="1" stroke-linejoin="miter"/>
<polyline points="367.4,409.5 376.2,407.7 395.7,406.4" fill="none" stroke="#606060" stroke-width="1" stroke-linejoin="miter"/>
<polyline points="319.5,403 328.7,408.5 338.2,409.5 347.8,407.5 357.3,408.5 366.8,409.5" fill="none" stroke="#606060" stroke-width="1" stroke-linejoin="miter"/>
<polyline points="319.5,407 328.7,409.8 347.8,409.5 357.3,406.5 366.8,408" fill="none" stroke="#606060" stroke-width="1" stroke-linejoin="miter"/>
<polyline points="319.5,408.5 328.7,407.5 338.2,408.8 347.8,405.5 357.3,409.6" fill="none" stroke="#606060" stroke-width="1" stroke-linejoin="miter"/>
<polyline points="409.8,408.6 420.2,389.4 429.8,406.3 441,409.5" fill="none" stroke="#111" stroke-width="1.2" stroke-linejoin="miter"/>
<polyline points="409.8,402.1 415.5,407.1 420.5,409.4 430.5,409.5" fill="none" stroke="#111" stroke-width="1.2" stroke-linejoin="miter"/>
<polyline points="409.8,408.6 420.5,401.3 429.8,406.3" fill="none" stroke="#111" stroke-width="1.2" stroke-linejoin="miter"/>
<polyline points="409.8,408.2 420.5,406.3 429.8,407.2" fill="none" stroke="#111" stroke-width="1.2" stroke-linejoin="miter"/>
<polyline points="409.8,409.5 420.5,409.5 430.7,362.3 451.7,408.6" fill="none" stroke="#111" stroke-width="1.2" stroke-linejoin="miter"/>
<polyline points="429.8,406.3 441.3,374.7 451.7,408.9 462.1,409" fill="none" stroke="#111" stroke-width="1.2" stroke-linejoin="miter"/>
<polyline points="430.4,406.3 451.7,359.1 462.1,408.9 473.5,409.5" fill="none" stroke="#111" stroke-width="1.2" stroke-linejoin="miter"/>
<polyline points="451.7,407.5 462.1,405.8 473.5,398.5 483.3,407.9" fill="none" stroke="#111" stroke-width="1.2" stroke-linejoin="miter"/>
<polyline points="462.1,409.5 473.5,410 483.5,365.4" fill="none" stroke="#111" stroke-width="1.2" stroke-linejoin="miter"/>
<polyline points="462.1,408 473.5,406.8 483.5,389.2" fill="none" stroke="#111" stroke-width="1.2" stroke-linejoin="miter"/>
<polyline points="462.1,409 473.5,409 483.5,396.5" fill="none" stroke="#111" stroke-width="1.2" stroke-linejoin="miter"/>
<polyline points="319.8,472.6 338.5,473.1 347.1,452.4 357.3,468.9 365.2,466.4 376,472.6 384.2,470.6 393.3,472.2" fill="none" stroke="#606060" stroke-width="1" stroke-linejoin="miter"/>
<polyline points="357.3,447.4 366.1,465.6 376,473 384.2,472.2 393.3,472.6" fill="none" stroke="#606060" stroke-width="1" stroke-linejoin="miter"/>
<polyline points="409.6,472.4 420.3,472.9 430.7,431.7 441.1,472.4 450,472.9" fill="none" stroke="#111" stroke-width="1.2" stroke-linejoin="miter"/>
<polyline points="420.3,472.9 430.7,439.3 440.6,459.7" fill="none" stroke="#111" stroke-width="1.2" stroke-linejoin="miter"/>
<polyline points="420.3,472.9 430.7,460.7 441.1,455.1" fill="none" stroke="#111" stroke-width="1.2" stroke-linejoin="miter"/>
<polyline points="462.3,470.8 473.4,460.4 483.5,431.5" fill="none" stroke="#111" stroke-width="1.2" stroke-linejoin="miter"/>
<polyline points="337.9,536.9 347.5,522.3" fill="none" stroke="#606060" stroke-width="1" stroke-linejoin="miter"/>
<polyline points="365.8,534.4 373.5,535.8 379.2,536.3 385,535.8 390.8,536.3" fill="none" stroke="#606060" stroke-width="1" stroke-linejoin="miter"/>
<polyline points="409.1,536.1 420.1,536.1 430.7,487.9" fill="none" stroke="#111" stroke-width="1.2" stroke-linejoin="miter"/>
<polyline points="420.1,536.1 430.7,504 441.2,535.3" fill="none" stroke="#111" stroke-width="1.2" stroke-linejoin="miter"/>
<polyline points="420.1,536.1 430.7,525.1 441.2,535.3 451.4,534.8" fill="none" stroke="#111" stroke-width="1.2" stroke-linejoin="miter"/>
<polyline points="452.2,532.3 473.4,530.2 483.5,536.1" fill="none" stroke="#111" stroke-width="1.2" stroke-linejoin="miter"/>
<polyline points="462.4,531.6 473.4,536.1 483.5,514.7" fill="none" stroke="#111" stroke-width="1.2" stroke-linejoin="miter"/>
</svg>
</body></html>
